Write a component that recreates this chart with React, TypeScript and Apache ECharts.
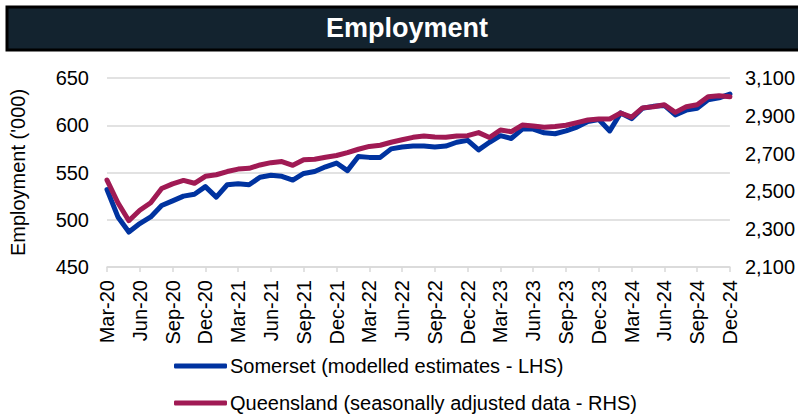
import React, { useEffect, useRef } from "react";
import * as echarts from "echarts";

const years = ["20", "21", "22", "23", "24"];
const monthNames = ["Jan", "Feb", "Mar", "Apr", "May", "Jun", "Jul", "Aug", "Sep", "Oct", "Nov", "Dec"];
const categories: string[] = [];
years.forEach((y, yi) => {
  monthNames.forEach((m, mi) => {
    if (yi === 0 && mi < 2) return;
    categories.push(`${m}-${y}`);
  });
});

const somerset = [
  532, 503, 487, 496, 503, 515, 520, 525, 527, 535,
  524, 537, 538, 537, 545, 547, 546, 542, 549, 551,
  556, 560, 552, 567, 566, 566, 575, 577, 578, 578,
  577, 578, 582, 584, 574, 582, 589, 586, 596, 596,
  592, 591, 594, 598, 604, 606, 594, 613, 607, 618,
  620, 621, 611, 616, 618, 627, 629, 633,
];

const queensland = [
  2560, 2440, 2345, 2400, 2440, 2515, 2540, 2558, 2543, 2580,
  2588, 2605, 2618, 2622, 2640, 2652, 2658, 2638, 2667, 2670,
  2681, 2690, 2705, 2723, 2738, 2744, 2760, 2773, 2786, 2793,
  2788, 2786, 2793, 2795, 2811, 2785, 2825, 2816, 2851, 2846,
  2840, 2843, 2850, 2864, 2878, 2883, 2883, 2915, 2893, 2942,
  2948, 2958, 2918, 2948, 2958, 3001, 3006, 3001,
];

const seriesNames = [
  "Somerset (modelled estimates - LHS)",
  "Queensland (seasonally adjusted data - RHS)",
];

const FONT = "Liberation Sans, Arial, sans-serif";
const FS = 20;

export default function App() {
  const ref = useRef<HTMLDivElement>(null);
  useEffect(() => {
    if (!ref.current) return;
    const chart = echarts.init(ref.current, null, { renderer: "svg" });
    const legendBase = {
      orient: "horizontal",
      left: 169,
      itemWidth: 53,
      itemHeight: 5,
      icon: "roundRect",
      textStyle: { fontSize: FS, color: "#000000", fontFamily: FONT, padding: [0, 0, 0, -2] },
    };
    chart.setOption({
      animation: false,
      backgroundColor: "#ffffff",
      textStyle: { fontFamily: FONT },
      graphic: [
        {
          type: "rect",
          shape: { x: 7, y: 7, width: 800, height: 43 },
          style: { fill: "#13232f", stroke: "#000000", lineWidth: 3 },
          z: 10,
        },
        {
          type: "text",
          x: 407,
          y: 28,
          style: {
            text: "Employment",
            fill: "#ffffff",
            font: `bold 27px ${FONT}`,
            textAlign: "center",
            textVerticalAlign: "middle",
          },
          z: 11,
        },
      ],
      grid: { left: 104, right: 67, top: 78, bottom: 150, containLabel: false },
      legend: [
        { ...legendBase, top: 351, data: [seriesNames[0]] },
        { ...legendBase, top: 388, data: [seriesNames[1]] },
      ],
      xAxis: {
        type: "category",
        data: categories,
        boundaryGap: false,
        axisLine: { lineStyle: { color: "#d9d9d9", width: 1.5 } },
        axisTick: { interval: 2, length: 5, lineStyle: { color: "#d9d9d9", width: 1.5 } },
        axisLabel: {
          interval: 2,
          rotate: 90,
          fontSize: FS,
          color: "#000000",
          fontFamily: FONT,
          margin: 13,
        },
        splitLine: { show: false },
      },
      yAxis: [
        {
          type: "value",
          min: 450,
          max: 650,
          interval: 50,
          name: "Employment ('000)",
          nameLocation: "middle",
          nameGap: 79,
          nameRotate: 90,
          nameTextStyle: { fontSize: FS, color: "#000000", fontFamily: FONT },
          axisLine: { show: false },
          axisTick: { show: false },
          axisLabel: { fontSize: FS, color: "#000000", fontFamily: FONT, margin: 18 },
          splitLine: { lineStyle: { color: "#d9d9d9", width: 1.5 } },
        },
        {
          type: "value",
          min: 2100,
          max: 3100,
          interval: 200,
          position: "right",
          axisLine: { show: false },
          axisTick: { show: false },
          axisLabel: {
            fontSize: FS,
            color: "#000000",
            fontFamily: FONT,
            margin: 15,
            formatter: (v: number) => v.toLocaleString("en-US"),
          },
          splitLine: { show: false },
        },
      ],
      series: [
        {
          name: seriesNames[0],
          type: "line",
          yAxisIndex: 0,
          data: somerset,
          showSymbol: false,
          symbol: "none",
          color: "#0033a0",
          lineStyle: { width: 5, color: "#0033a0", cap: "round", join: "round" },
        },
        {
          name: seriesNames[1],
          type: "line",
          yAxisIndex: 1,
          data: queensland,
          showSymbol: false,
          symbol: "none",
          color: "#a01a54",
          lineStyle: { width: 5, color: "#a01a54", cap: "round", join: "round" },
        },
      ],
    });
    return () => chart.dispose();
  }, []);
  return (
    <div
      ref={ref}
      style={{ position: "fixed", left: 0, top: 0, width: 798, height: 417 }}
    />
  );
}
